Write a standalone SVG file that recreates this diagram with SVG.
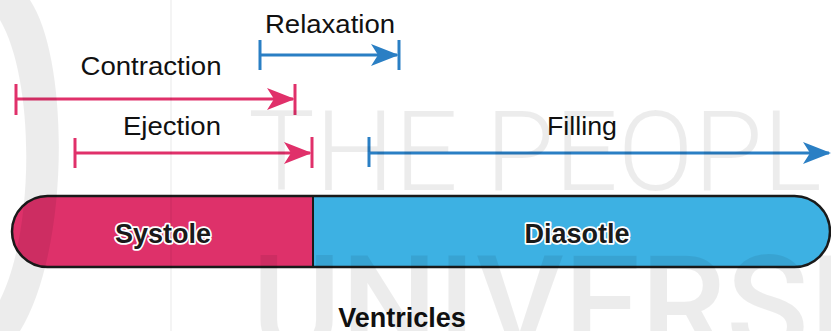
<svg xmlns="http://www.w3.org/2000/svg" width="831" height="331" viewBox="0 0 831 331">
  <style>
    .label { font-family: "Liberation Sans", Arial, sans-serif; font-size: 26px; fill: #111; text-anchor: middle; }
    .phase { font-family: "Liberation Sans", Arial, sans-serif; font-size: 27px; font-weight: bold; fill: #1a1a1a; text-anchor: middle; stroke: #fff; stroke-width: 3.5px; paint-order: stroke; stroke-linejoin: round; }
    .title { font-family: "Liberation Sans", Arial, sans-serif; font-size: 27px; font-weight: bold; fill: #111; text-anchor: middle; }
    .pink { stroke: #e0306a; stroke-width: 3; fill: none; }
    .blue { stroke: #2a7fc4; stroke-width: 3; fill: none; }
    .mark { fill: #000; fill-opacity: 0.075; font-family: Roboto, "Liberation Sans", sans-serif; }
  </style>
  <defs>
    <marker id="headPink" viewBox="0 0 28 22" refX="26" refY="11" markerWidth="28" markerHeight="22" markerUnits="userSpaceOnUse" orient="auto">
      <path d="M0,0 L28,11 L0,22 L7,11 Z" fill="#e0306a"/>
    </marker>
    <marker id="headBlue" viewBox="0 0 28 22" refX="26" refY="11" markerWidth="28" markerHeight="22" markerUnits="userSpaceOnUse" orient="auto">
      <path d="M0,0 L28,11 L0,22 L7,11 Z" fill="#2a7fc4"/>
    </marker>
    <clipPath id="barClip">
      <rect x="12" y="196" width="818" height="71" rx="35.5" ry="35.5"/>
    </clipPath>
  </defs>

  <rect width="831" height="331" fill="#fff"/>

  <!-- ventricle cycle bar -->
  <g id="bar">
    <g clip-path="url(#barClip)">
      <rect x="12" y="196" width="301" height="71" fill="#de316a"/>
      <rect x="313" y="196" width="517" height="71" fill="#3db1e3"/>
    </g>
    <line x1="313" y1="196" x2="313" y2="267" stroke="#1a1a1a" stroke-width="2"/>
    <rect x="12" y="196" width="818" height="71" rx="35.5" ry="35.5" fill="none" stroke="#1a1a1a" stroke-width="2.5"/>
  </g>
  <g id="systole">
    <text class="phase" x="163" y="243">Systole</text>
  </g>
  <g id="diastole">
    <text class="phase" x="577" y="243">Diasotle</text>
  </g>
  <g id="ventricles">
    <text class="title" x="402" y="327">Ventricles</text>
  </g>

  <!-- phase spans -->
  <g id="connectors">
    <g id="relaxation">
      <line class="blue" x1="260" y1="40" x2="260" y2="70"/>
      <line class="blue" x1="399" y1="40" x2="399" y2="70"/>
      <line class="blue" x1="260" y1="55" x2="397" y2="55" marker-end="url(#headBlue)"/>
    </g>
    <g id="contraction">
      <line class="pink" x1="16" y1="84" x2="16" y2="115"/>
      <line class="pink" x1="295" y1="84" x2="295" y2="115"/>
      <line class="pink" x1="16" y1="99" x2="293" y2="99" marker-end="url(#headPink)"/>
    </g>
    <g id="ejection">
      <line class="pink" x1="75" y1="138" x2="75" y2="168"/>
      <line class="pink" x1="312" y1="137" x2="312" y2="168"/>
      <line class="pink" x1="75" y1="153" x2="310" y2="153" marker-end="url(#headPink)"/>
    </g>
    <g id="filling">
      <line class="blue" x1="369" y1="137" x2="369" y2="167"/>
      <line class="blue" x1="369" y1="153" x2="829" y2="153" marker-end="url(#headBlue)"/>
    </g>
  </g>

  <g id="labels">
    <text class="label" x="330" y="33" textLength="130" lengthAdjust="spacingAndGlyphs">Relaxation</text>
    <text class="label" x="151" y="75" textLength="141" lengthAdjust="spacingAndGlyphs">Contraction</text>
    <text class="label" x="172" y="135" textLength="98" lengthAdjust="spacingAndGlyphs">Ejection</text>
    <text class="label" x="582" y="135" textLength="70" lengthAdjust="spacingAndGlyphs">Filling</text>
  </g>

  <!-- faint background emblem -->
  <g id="emblem">
    <path d="M30,0 C70,60 70,250 20,331 L0,331 L0,300 C35,230 35,80 0,20 L0,0 Z" class="mark"/>
    <line x1="171" y1="0" x2="171" y2="331" stroke="#000" stroke-opacity="0.06" stroke-width="1.5"/>
    <text class="mark" x="248" y="190" font-size="112" font-weight="300">THE PEOPLE'S</text>
    <text class="mark" x="252" y="352" font-size="136" font-weight="500">UNIVERSITY</text>
  </g>
</svg>
